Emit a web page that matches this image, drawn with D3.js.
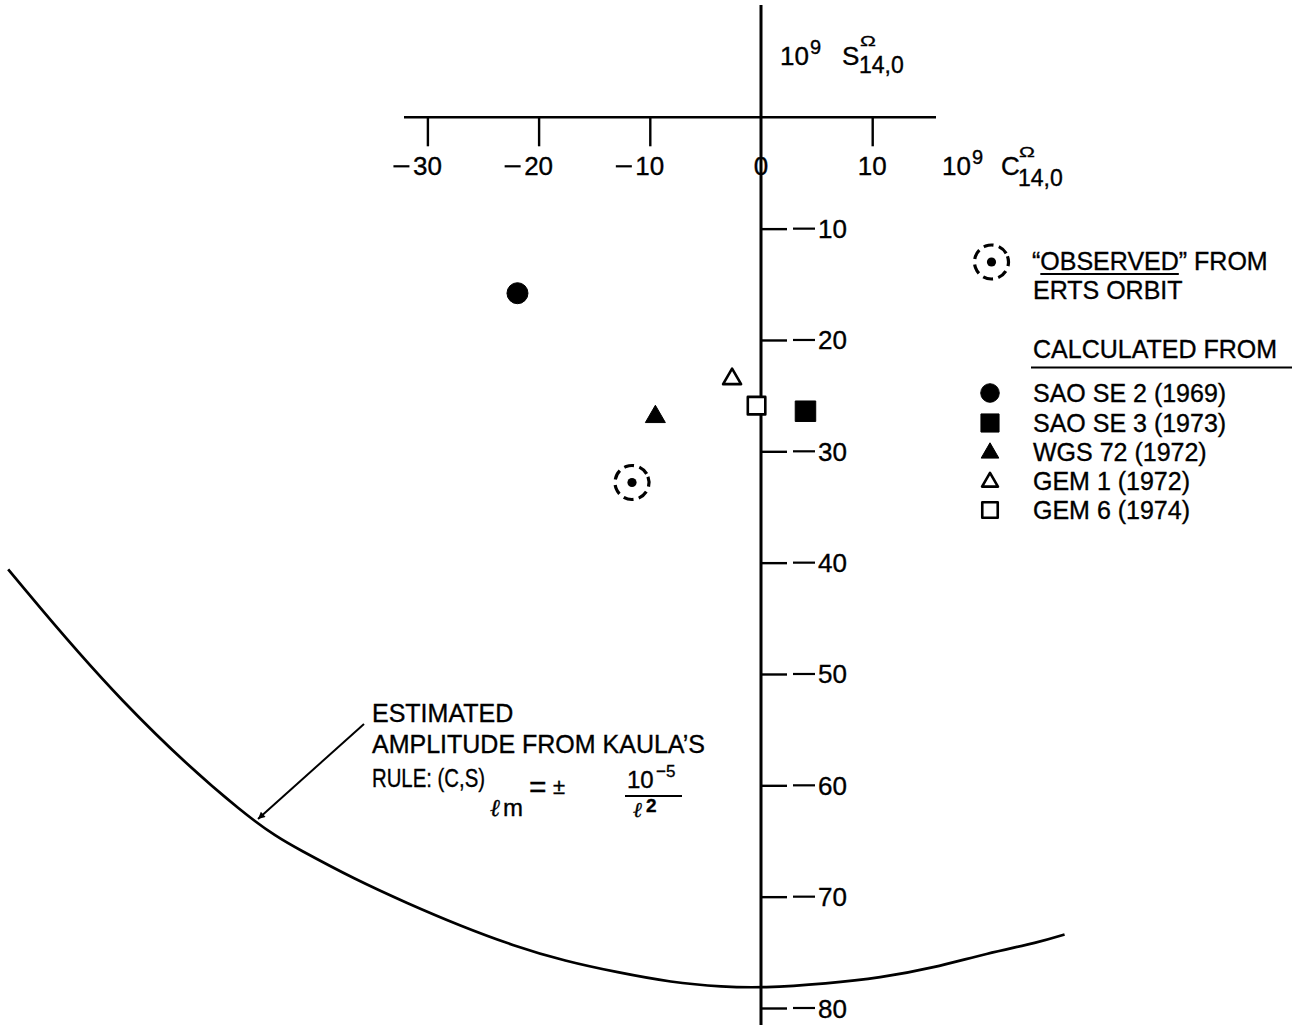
<!DOCTYPE html>
<html><head><meta charset="utf-8">
<script src="https://cdn.jsdelivr.net/npm/d3@7"></script>
<style>
body{margin:0;background:#fff}
svg{display:block}
text{font-family:"Liberation Sans",Arial,sans-serif;fill:#000;stroke:#000;stroke-width:0.35px}
</style>
</head><body>
<svg id="chart" width="1295" height="1030"></svg>
<script>
// ---------- data ----------
const xTicks = [-30, -20, -10, 0, 10];
const yTicks = [-10, -20, -30, -40, -50, -60, -70, -80];

const models  = ["SAO SE 2 (1969)", "SAO SE 3 (1973)", "WGS 72 (1972)", "GEM 1 (1972)", "GEM 6 (1974)"];
const modelC  = [-21.9, 4.0, -9.5, -2.6, -0.4];
const modelS  = [-15.8, -26.4, -26.9, -23.5, -25.9];
const modelSymbol = ["circle", "square", "triangle", "triangle", "square"];
const modelFilled = [true, true, true, false, false];

const observedC = [-11.6];
const observedS = [-32.8];

// Kaula's rule envelope
const kaulaC = [-67.7, -57.7, -45.8, -41.3, -36.6, -31.8, -27.1, -22.3, -17.6, -12.9, -8.1, -3.4, 0.1, 6.0, 10.7, 15.5, 20.3, 25.0, 27.3];
const kaulaS = [-40.6, -52.6, -63.4, -65.9, -68.4, -70.6, -72.6, -74.4, -75.8, -76.8, -77.7, -78.1, -78.2, -77.8, -77.3, -76.4, -75.1, -74.1, -73.4];

// ---------- layout ----------
const svg = d3.select("#chart");
const x = d3.scaleLinear().domain([0, 10]).range([761, 872.2]);
const y = d3.scaleLinear().domain([0, -80]).range([117.3, 1008]);
const X0 = x(0), Y0 = y(0);

// ---------- axes ----------
svg.append("line").attr("x1", 404).attr("x2", 936).attr("y1", Y0).attr("y2", Y0)
  .attr("stroke", "#000").attr("stroke-width", 2.5);
const xAxis = svg.append("g").attr("transform", `translate(0,${Y0})`)
  .call(d3.axisBottom(x).tickValues(xTicks.filter(d => d !== 0)).tickSize(29).tickFormat(""));
xAxis.select(".domain").remove();
xAxis.selectAll(".tick line").attr("stroke", "#000").attr("stroke-width", 2.4);

const xl = svg.append("g").attr("class", "xlabels");
xTicks.forEach(v => {
  const g = xl.append("g").attr("transform", `translate(${x(v)},${Y0 + 58})`);
  const t = g.append("text").attr("text-anchor", "middle").attr("font-size", 26).text(Math.abs(v));
  if (v < 0) {
    const w = t.node().getComputedTextLength();
    g.append("line").attr("x1", -w / 2 - 3.5).attr("x2", -w / 2 - 19.5)
      .attr("y1", -9).attr("y2", -9).attr("stroke", "#000").attr("stroke-width", 2.2);
  }
});

svg.append("line").attr("x1", X0).attr("x2", X0).attr("y1", 5).attr("y2", 1025)
  .attr("stroke", "#000").attr("stroke-width", 3);
const yAxis = svg.append("g").attr("transform", `translate(${X0},0)`)
  .call(d3.axisRight(y).tickValues(yTicks).tickSize(26).tickFormat(""));
yAxis.select(".domain").remove();
yAxis.selectAll(".tick line").attr("stroke", "#000").attr("stroke-width", 2.4);

const yl = svg.append("g").attr("class", "ylabels");
yTicks.forEach(v => {
  const g = yl.append("g").attr("transform", `translate(${X0},${y(v)})`);
  g.append("line").attr("x1", 32).attr("x2", 54).attr("y1", 0).attr("y2", 0)
    .attr("stroke", "#000").attr("stroke-width", 2.2);
  g.append("text").attr("x", 57).attr("y", 9.5).attr("font-size", 26).text(Math.abs(v));
});

// axis titles
function axisTitle(x0, base, letter, letterX, omegaY, subBase) {
  svg.append("text").attr("x", x0).attr("y", base).attr("font-size", 26).text("10");
  svg.append("text").attr("x", x0 + 30).attr("y", base - 11).attr("font-size", 20).text("9");
  svg.append("text").attr("x", letterX).attr("y", base).attr("font-size", 26).text(letter);
  svg.append("text").attr("x", letterX + 18).attr("y", omegaY).attr("font-size", 17)
    .attr("transform", `translate(${letterX + 18},${omegaY}) scale(1.25,0.85) translate(${-(letterX + 18)},${-omegaY})`)
    .text("\u03a9");
  svg.append("text").attr("x", letterX + 17).attr("y", subBase).attr("font-size", 23).text("14,0");
}
axisTitle(780, 65, "S", 842, 46, 73);
axisTitle(942, 175, "C", 1001, 157, 186);

// ---------- Kaula curve ----------
const kaula = kaulaC.map((c, i) => [c, kaulaS[i]]);
svg.append("path").datum(kaula)
  .attr("d", d3.line().x(d => x(d[0])).y(d => y(d[1])).curve(d3.curveBasis))
  .attr("fill", "none").attr("stroke", "#000").attr("stroke-width", 2.7);

// ---------- symbols ----------
const symType = { circle: d3.symbolCircle, square: d3.symbolSquare, triangle: d3.symbolTriangle };
function symSize(kind, filled, scale) {
  let s;
  if (kind === "circle") s = Math.PI * 10.5 * 10.5;
  else if (kind === "square") s = filled ? 20.5 * 20.5 : 17.5 * 17.5;
  else s = filled ? 20 * 20 * Math.sqrt(3) / 4 : 18 * 18 * Math.sqrt(3) / 4;
  return s * scale;
}
function drawSym(g, kind, filled, cx, cy, scale) {
  g.append("path")
    .attr("d", d3.symbol().type(symType[kind]).size(symSize(kind, filled, scale))())
    .attr("transform", `translate(${cx},${cy})`)
    .attr("fill", filled ? "#000" : "#fff")
    .attr("stroke", "#000").attr("stroke-width", filled ? 1 : 2.6)
    .attr("stroke-linejoin", "round");
}
const pts = svg.append("g");
models.forEach((m, i) => drawSym(pts, modelSymbol[i], modelFilled[i], x(modelC[i]), y(modelS[i]), 1));

function drawObserved(g, cx, cy) {
  g.append("circle").attr("cx", cx).attr("cy", cy).attr("r", 17)
    .attr("fill", "none").attr("stroke", "#000").attr("stroke-width", 3.2)
    .attr("stroke-dasharray", "10 5.5").attr("transform", `rotate(-20,${cx},${cy})`);
  g.append("circle").attr("cx", cx).attr("cy", cy).attr("r", 4.6).attr("fill", "#000");
}
observedC.forEach((c, i) => drawObserved(pts, x(c), y(observedS[i])));

// ---------- legend ----------
const lg = svg.append("g");
drawObserved(lg, 991.5, 262);
const obs = lg.append("text").attr("x", 1032).attr("y", 270).attr("font-size", 25).text("\u201cOBSERVED\u201d FROM");
{
  const n = obs.node();
  const x1 = 1032 + n.getSubStringLength(0, 1);
  const x2 = 1032 + n.getSubStringLength(0, 9);
  lg.append("line").attr("x1", x1).attr("x2", x2).attr("y1", 274).attr("y2", 274)
    .attr("stroke", "#000").attr("stroke-width", 1.8);
}
lg.append("text").attr("x", 1033).attr("y", 299).attr("font-size", 25).text("ERTS ORBIT");
lg.append("text").attr("x", 1033).attr("y", 358).attr("font-size", 25).text("CALCULATED FROM");
lg.append("line").attr("x1", 1031).attr("x2", 1292).attr("y1", 367.5).attr("y2", 367.5)
  .attr("stroke", "#000").attr("stroke-width", 2);
const rowY = [393, 423, 452, 481, 510];
models.forEach((m, i) => {
  drawSym(lg, modelSymbol[i], modelFilled[i], 990, rowY[i] + (modelSymbol[i] === "triangle" ? 1 : 0), 0.78);
  lg.append("text").attr("x", 1033).attr("y", rowY[i] + 9).attr("font-size", 25).text(m);
});

// ---------- annotation ----------
svg.append("defs").append("marker").attr("id", "ah")
  .attr("viewBox", "0 0 10 10").attr("refX", 10).attr("refY", 5)
  .attr("markerWidth", 10).attr("markerHeight", 7).attr("markerUnits", "userSpaceOnUse")
  .attr("orient", "auto")
  .append("path").attr("d", "M0,0 L10,5 L0,10 z").attr("fill", "#000");
svg.append("line").attr("x1", 364).attr("y1", 724).attr("x2", 258).attr("y2", 819)
  .attr("stroke", "#000").attr("stroke-width", 2).attr("marker-end", "url(#ah)");

const an = svg.append("g");
an.append("text").attr("x", 372).attr("y", 722).attr("font-size", 25).text("ESTIMATED");
an.append("text").attr("x", 372).attr("y", 753).attr("font-size", 25).text("AMPLITUDE FROM KAULA\u2019S");
an.append("text").attr("x", 372).attr("y", 787).attr("font-size", 25)
  .attr("textLength", 113).attr("lengthAdjust", "spacingAndGlyphs").text("RULE: (C,S)");
const sub = an.append("text").attr("x", 490).attr("y", 816).attr("font-size", 24);
sub.append("tspan").attr("font-family", "DejaVu Serif").attr("font-style", "italic").text("\u2113");
sub.append("tspan").attr("x", 503).text("m");
an.append("text").attr("x", 529).attr("y", 797).attr("font-size", 30).text("=");
an.append("text").attr("x", 553).attr("y", 794).attr("font-size", 22).text("\u00b1");
const num = an.append("text").attr("x", 627).attr("y", 788).attr("font-size", 24);
num.append("tspan").text("10");
num.append("tspan").attr("x", 656).attr("y", 777).attr("font-size", 17).text("\u22125");
an.append("line").attr("x1", 625).attr("x2", 682).attr("y1", 796).attr("y2", 796)
  .attr("stroke", "#000").attr("stroke-width", 2);
const den = an.append("text").attr("x", 633).attr("y", 817).attr("font-size", 21);
den.append("tspan").attr("font-family", "DejaVu Serif").attr("font-style", "italic").text("\u2113");
den.append("tspan").attr("x", 646).attr("y", 812).attr("font-size", 19).attr("font-weight", "bold").text("2");
</script>
</body></html>
